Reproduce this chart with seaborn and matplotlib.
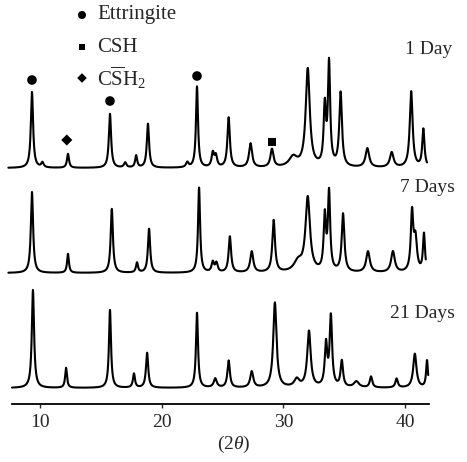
import numpy as np
import pandas as pd
import matplotlib
matplotlib.use('Agg')
import matplotlib.pyplot as plt
import seaborn as sns

# Picos de difracção (2theta, altura acima da linha de base, meia-largura)
dia1_pos = [9.34, 10.2, 12.3, 15.75, 17.0, 17.9, 18.87, 22.1, 22.9, 24.2, 24.45, 25.5, 27.3,
            29.06, 30.8, 32.0, 33.4, 33.75, 34.7, 36.9, 38.9, 40.5, 41.5]
dia1_alt = [76, 5, 14, 54, 5, 12, 44, 5, 81, 14, 11, 50, 24,
            18, 10, 98, 58, 102, 74, 19, 15, 76, 38]
dia1_larg = [0.11, 0.12, 0.1, 0.11, 0.12, 0.1, 0.11, 0.12, 0.1, 0.12, 0.12, 0.12, 0.15,
             0.15, 0.4, 0.2, 0.11, 0.11, 0.13, 0.18, 0.18, 0.14, 0.11]

dia7_pos = [9.34, 12.3, 15.9, 17.97, 18.96, 23.07, 24.2, 24.5, 25.6, 27.4, 29.2, 31.2,
            32.0, 33.4, 33.75, 34.9, 36.95, 39.0, 40.57, 40.85, 41.55]
dia7_alt = [81, 19, 64, 10, 44, 85, 10, 9, 36, 21, 52, 10,
            74, 54, 78, 58, 21, 21, 58, 32, 38]
dia7_larg = [0.11, 0.09, 0.11, 0.1, 0.11, 0.1, 0.12, 0.12, 0.12, 0.15, 0.13, 0.4,
             0.22, 0.11, 0.11, 0.13, 0.18, 0.18, 0.12, 0.15, 0.1]

dia21_pos = [9.42, 12.14, 15.75, 17.72, 18.8, 22.9, 24.4, 25.5, 27.4, 29.3, 31.1,
             32.1, 33.5, 33.9, 34.8, 36.0, 37.2, 39.3, 40.8, 41.8]
dia21_alt = [98, 20, 78, 14, 35, 75, 9, 27, 16, 85, 8,
             56, 42, 70, 26, 6, 11, 9, 34, 27]
dia21_larg = [0.11, 0.09, 0.1, 0.1, 0.11, 0.1, 0.15, 0.12, 0.15, 0.16, 0.25,
              0.17, 0.12, 0.12, 0.12, 0.25, 0.12, 0.12, 0.16, 0.09]

linha_base = {'1 Day': 236, '7 Days': 131, '21 Days': 16}
inicio_fim = {'1 Day': (7.4, 41.8), '7 Days': (7.4, 41.7), '21 Days': (7.7, 41.9)}

# Marcadores das fases
ettr_x = [9.34, 15.75, 22.9]
ettr_y = [324, 303, 328]
csh_x = [29.06]
csh_y = [262]
gesso_x = [12.2]
gesso_y = [264]


def perfil(x, pos, alt, larg, base):
    y = np.full_like(x, base, dtype=float)
    for p, h, w in zip(pos, alt, larg):
        y += h * w**2 / ((x - p)**2 + w**2)
    return y


sns.set_style('white')
plt.rcParams['font.family'] = ['Liberation Serif', 'DejaVu Serif']
plt.rcParams['mathtext.fontset'] = 'custom'
plt.rcParams['mathtext.rm'] = 'Liberation Serif'
plt.rcParams['mathtext.it'] = 'Liberation Serif:italic'

fig = plt.figure(figsize=(4.67, 4.62), dpi=100)
ax = fig.add_axes([0, 58 / 462, 1, 404 / 462])

series = {'1 Day': (dia1_pos, dia1_alt, dia1_larg),
          '7 Days': (dia7_pos, dia7_alt, dia7_larg),
          '21 Days': (dia21_pos, dia21_alt, dia21_larg)}

for nome, (pos, alt, larg) in series.items():
    a, b = inicio_fim[nome]
    x = np.linspace(a, b, 4000)
    df = pd.DataFrame({'2theta': x, 'I': perfil(x, pos, alt, larg, linha_base[nome])})
    sns.lineplot(data=df, x='2theta', y='I', color='black', lw=1.5, ax=ax)

sns.scatterplot(x=ettr_x, y=ettr_y, marker='o', s=48, color='black', edgecolor='none', ax=ax)
sns.scatterplot(x=csh_x, y=csh_y, marker='s', s=34, color='black', edgecolor='none', ax=ax)
sns.scatterplot(x=gesso_x, y=gesso_y, marker='D', s=32, color='black', edgecolor='none', ax=ax)

# Legenda desenhada à mão
lx = 13.45
sns.scatterplot(x=[lx], y=[389], marker='o', s=34, color='black', edgecolor='none', ax=ax)
sns.scatterplot(x=[lx], y=[357], marker='s', s=24, color='black', edgecolor='none', ax=ax)
sns.scatterplot(x=[lx], y=[326], marker='D', s=24, color='black', edgecolor='none', ax=ax)
ax.text(14.68, 389, 'Ettringite', fontsize=15, va='center', ha='left')
ax.text(14.68, 357, 'CSH', fontsize=15, va='center', ha='left')
ax.text(14.68, 326, r'C$\overline{\mathrm{S}}$H$_2$', fontsize=15, va='center', ha='left')

ax.text(40.0, 354, '1 Day', fontsize=14, va='center', ha='left')
ax.text(39.6, 216, '7 Days', fontsize=14, va='center', ha='left')
ax.text(38.76, 91, '21 Days', fontsize=14, va='center', ha='left')

ax.set_xlim(6.713, 45.086)
ax.set_ylim(0, 404)
ax.set_xticks([10, 20, 30, 40])
ax.set_yticks([])
ax.tick_params(axis='x', direction='out', length=3, width=1, pad=4, labelsize=14, bottom=True)
ax.set_xlabel(r'(2$\theta$)', fontsize=14, labelpad=2)
ax.set_ylabel('')
for s in ['top', 'left', 'right']:
    ax.spines[s].set_visible(False)
ax.spines['bottom'].set_bounds(7.7, 41.97)
ax.spines['bottom'].set_linewidth(1.3)
ax.spines['bottom'].set_color('black')
ax.patch.set_alpha(0)

fig.savefig('out.png', dpi=100)
